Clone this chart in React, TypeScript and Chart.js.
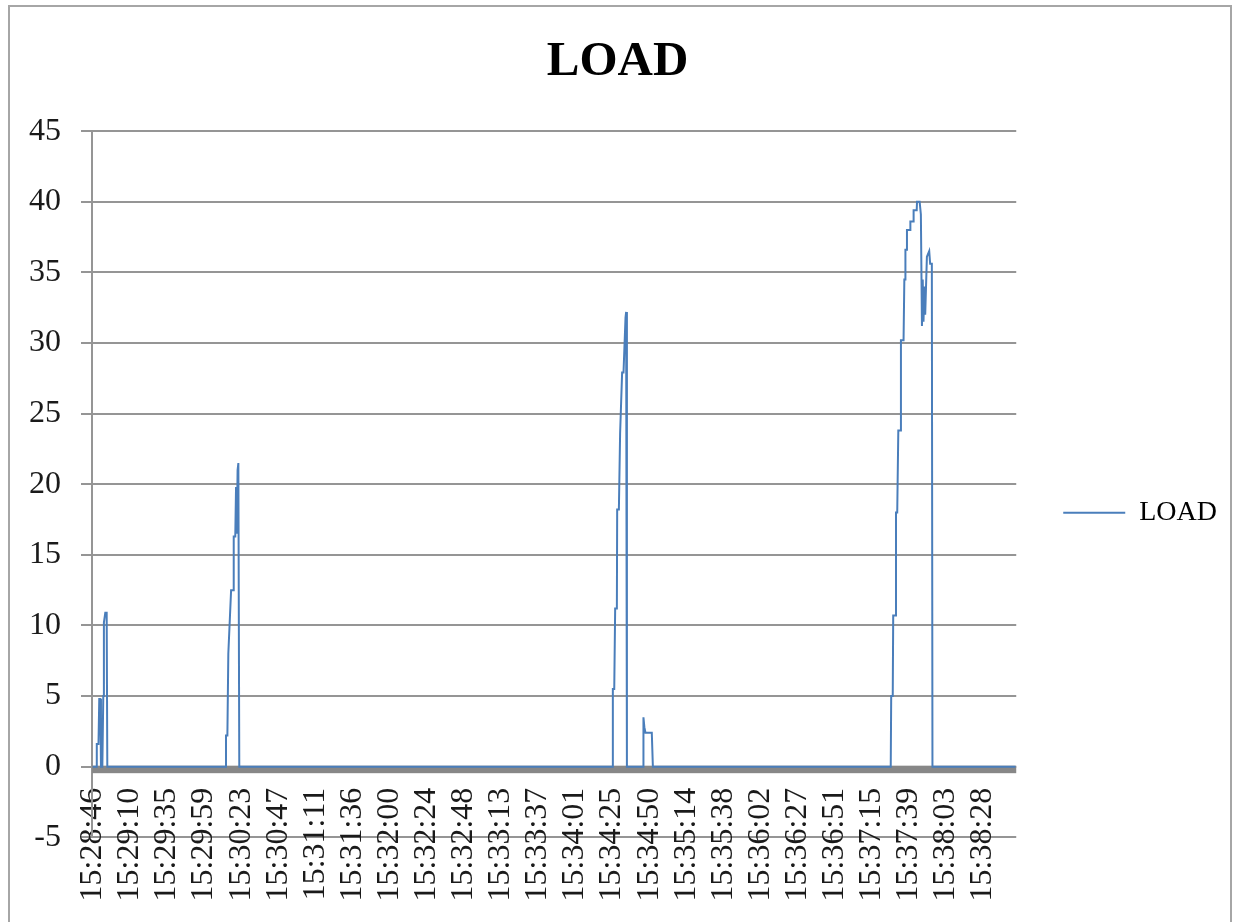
import React, { useEffect, useRef } from "react";
import { Chart, registerables } from "chart.js";

Chart.register(...registerables);

const FONT = "'Liberation Serif', 'DejaVu Serif', serif";

// x-axis tick labels (one every LABEL_STEP samples)
const TIME_LABELS = [
  "15:28:46", "15:29:10", "15:29:35", "15:29:59", "15:30:23",
  "15:30:47", "15:31:11", "15:31:36", "15:32:00", "15:32:24",
  "15:32:48", "15:33:13", "15:33:37", "15:34:01", "15:34:25",
  "15:34:50", "15:35:14", "15:35:38", "15:36:02", "15:36:27",
  "15:36:51", "15:37:15", "15:37:39", "15:38:03", "15:38:28",
];
const LABEL_STEP = 24;
const SAMPLE_COUNT = 598;

// line vertices: sample position and LOAD value
const SAMPLE_INDEX = [
  0,
  2.1, 2.6, 3.7, 4.2, 4.9, 5.3, 6.2, 6.8, 7.2, 8.1, 9.0, 9.4,
  85.8, 86.2, 87.1, 87.7, 89.5, 90.9, 91.2, 92.2, 92.7, 93.2, 93.7, 94.2, 94.8,
  336.3, 336.5, 337.4, 338.0, 339.1, 339.3, 340.4, 341.2, 342.5, 343.4, 344.7, 345.1, 345.6,
  356.2, 356.3, 356.9, 357.6, 361.7, 362.4,
  516.3, 516.6, 517.6, 517.9, 519.2, 519.7, 520.5, 521.2, 522.4, 522.9, 524.6, 525.1,
  525.6, 525.8, 526.6, 526.8, 528.8, 529.0, 530.9, 531.1, 533.1, 533.3, 535.0, 535.8,
  536.5, 537.0, 537.5, 538.1, 538.6, 539.7, 541.2, 541.8, 542.9, 543.3,
  597,
];
const LOAD_VALUES = [
  0,
  0, 1.6, 1.6, 4.8, 4.8, 0, 0, 5.0, 10.2, 10.9, 10.9, 0,
  0, 2.2, 2.2, 8.0, 12.5, 12.5, 16.3, 16.3, 19.8, 16.5, 21.0, 21.5, 0,
  0, 5.5, 5.5, 11.2, 11.2, 18.2, 18.2, 23.6, 27.9, 27.9, 31.8, 32.2, 0,
  0, 3.5, 2.8, 2.4, 2.4, 0,
  0, 5.0, 5.0, 10.7, 10.7, 18.0, 18.0, 23.8, 23.8, 30.2, 30.2, 34.5,
  34.5, 36.6, 36.6, 38.0, 38.0, 38.6, 38.6, 39.4, 39.4, 40.0, 40.0, 39.1,
  31.2, 34.5, 31.5, 34.0, 32.0, 36.1, 36.5, 35.6, 35.6, 0,
  0,
];

const Y_MIN = -5;
const Y_MAX = 45;
const Y_STEP = 5;

const zeroAxisBand = {
  id: "zeroAxisBand",
  beforeDatasetsDraw(chart: any) {
    const { ctx, chartArea, scales } = chart;
    const y0 = scales.y.getPixelForValue(0);
    ctx.save();
    ctx.fillStyle = "#878787";
    ctx.fillRect(chartArea.left, y0 - 1, chartArea.right - chartArea.left, 7.5);
    ctx.restore();
  },
};

export default function App() {
  const canvasRef = useRef<HTMLCanvasElement | null>(null);

  useEffect(() => {
    if (!canvasRef.current) return;
    const points = SAMPLE_INDEX.map((x, i) => ({ x, y: LOAD_VALUES[i] }));
    const chart = new Chart(canvasRef.current, {
      type: "line",
      data: {
        datasets: [
          {
            label: "LOAD",
            data: points,
            borderColor: "#4a7ebb",
            backgroundColor: "#4a7ebb",
            borderWidth: 2,
            pointRadius: 0,
            tension: 0,
            fill: false,
          },
        ],
      },
      options: {
        responsive: false,
        animation: false,
        layout: { padding: { left: 8, right: 10, top: 0, bottom: 84.7 } },
        plugins: {
          title: {
            display: true,
            text: "LOAD",
            color: "#000",
            font: { family: FONT, size: 49, weight: "bold", lineHeight: 1.2 },
            padding: { top: 33.1, bottom: 39.2 },
          },
          legend: {
            display: true,
            position: "right",
            fullSize: false,
            align: "center",
            title: {
              display: true,
              text: "",
              font: { size: 13, lineHeight: 1 },
              padding: { top: 0, bottom: 44 },
            },
            labels: {
              usePointStyle: true,
              pointStyle: "line",
              pointStyleWidth: 62,
              padding: 47,
              color: "#000",
              font: { family: FONT, size: 28 },
            },
          },
          tooltip: { enabled: false },
        },
        scales: {
          x: {
            type: "linear",
            position: { y: 0 },
            min: -0.5,
            max: SAMPLE_COUNT - 0.5,
            afterBuildTicks: (scale: any) => {
              scale.ticks = TIME_LABELS.map((_, i) => ({ value: i * LABEL_STEP }));
            },
            ticks: {
              autoSkip: false,
              minRotation: 90,
              maxRotation: 90,
              padding: 21,
              color: "#1a1a1a",
              font: { family: FONT, size: 32 },
              callback: (value: any) => TIME_LABELS[Math.round(Number(value) / LABEL_STEP)] ?? "",
            },
            grid: { display: false, drawTicks: false },
            border: { display: false },
          },
          y: {
            min: Y_MIN,
            max: Y_MAX,
            ticks: {
              stepSize: Y_STEP,
              padding: 20,
              color: "#1a1a1a",
              font: { family: FONT, size: 32 },
            },
            grid: { color: "#959595", lineWidth: 2, tickLength: 11 },
            border: { color: "#959595", width: 2 },
            afterFit: (scale: any) => {
              scale.width = 84;
            },
          },
        },
      },
      plugins: [zeroAxisBand],
    });
    return () => chart.destroy();
  }, []);

  return (
    <div style={{ position: "absolute", left: 0, top: 0, width: 1237, height: 922, background: "#fff", overflow: "hidden" }}>
      <canvas ref={canvasRef} width={1237} height={922} style={{ position: "absolute", left: 0, top: 0 }} />
      <div
        style={{
          position: "absolute",
          left: 8,
          top: 5,
          width: 1224,
          height: 960,
          border: "2px solid #a6a6a6",
          boxSizing: "border-box",
          pointerEvents: "none",
        }}
      />
    </div>
  );
}
